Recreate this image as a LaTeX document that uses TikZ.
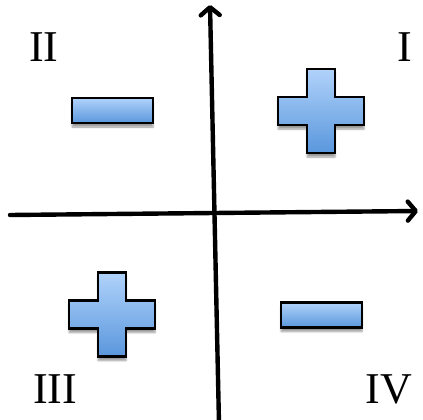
\documentclass[tikz,border=0pt]{standalone}
\usepackage{fontspec}
\setmainfont{Liberation Serif}
\usetikzlibrary{arrows.meta, shadows.blur}
\definecolor{signTop}{HTML}{B0D2FA}
\definecolor{signBottom}{HTML}{5A97DD}

\begin{document}
\begin{tikzpicture}[
  x=1pt, y=1pt,
  axis/.style={line width=4.4pt, line cap=round,
               -{Straight Barb[length=8pt, width=19pt, round]}},
  sign/.style={draw=black, line width=2.4pt, top color=signTop,
               bottom color=signBottom,
               blur shadow={shadow xshift=0pt, shadow yshift=-4pt,
                            shadow blur steps=6, shadow opacity=40}},
  minusbox/.style={sign, rectangle, minimum width=81pt, minimum height=25pt,
                   inner sep=0pt},
  quadlabel/.style={anchor=base, inner sep=0pt, font=\fontsize{44}{48}\selectfont},
  plussign/.pic={
    \path[sign] (-14,42) -- (14,42) -- (14,14) -- (43,14) -- (43,-14)
      -- (14,-14) -- (14,-42) -- (-14,-42) -- (-14,-14) -- (-43,-14)
      -- (-43,14) -- (-14,14) -- cycle;
  },
]
\useasboundingbox (0,0) rectangle (423,-420);

% axes
\coordinate (xstart) at (10,-215);
\coordinate (xend) at (418,-211);
\coordinate (ystart) at (219,-424);
\coordinate (yend) at (210,-5);
\draw[axis] (xstart) -- (xend);
\draw[axis] (ystart) -- (yend);

% signs
\pic (plusI) at (321,-111) {plussign};
\node[minusbox] (minusII) at (112.5,-110.5) {};
\pic (plusIII) at (112,-314.5) {plussign};
\node[minusbox] (minusIV) at (321.5,-315) {};

% quadrant labels
\node[quadlabel] (labI) at (405,-62) {I};
\node[quadlabel] (labII) at (44,-62) {II};
\node[quadlabel] (labIII) at (55,-403) {III};
\node[quadlabel] (labIV) at (389,-403) {IV};
\end{tikzpicture}
\end{document}
